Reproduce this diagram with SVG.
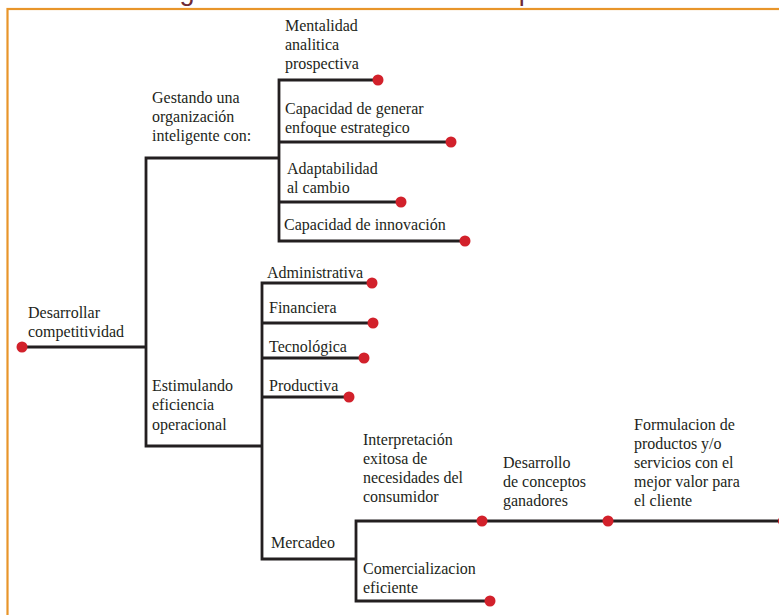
<svg xmlns="http://www.w3.org/2000/svg" width="779" height="615" viewBox="0 0 779 615">
<style>
.t{font-family:"Liberation Serif","Times New Roman",serif;font-size:16px;fill:#231f20}
.ttl{font-family:"Liberation Sans",Arial,sans-serif;font-size:27px;fill:#6e2a35}
.ln{fill:none;stroke:#231f20;stroke-width:2.8;stroke-linejoin:miter;stroke-linecap:butt}
.dot{fill:#d2212b}
</style>
<rect x="0" y="0" width="779" height="615" fill="#ffffff"/>
<text class="ttl" x="157" y="0">Figura 3. Desarrollo de la competitividad</text>
<rect x="7.5" y="9" width="820" height="700" fill="none" stroke="#e8952a" stroke-width="2.2"/>
<g id="connectors">
<path class="ln" d="M22,347 H146 M279,158 H146 V446 H262"/>
<path class="ln" d="M378,80 H279 V241 H465 M279,142 H451 M279,202 H401"/>
<path class="ln" d="M372,283 H262 V559 H356 M262,323 H373 M262,358 H364 M262,397 H349"/>
<path class="ln" d="M779,521 H356 V601 H490"/>
</g>
<g id="n-root"><circle class="dot" cx="22" cy="347" r="5.5"/><text class="t" x="28"><tspan x="28" y="318">Desarrollar</tspan><tspan x="28" y="337">competitividad</tspan></text></g>
<g id="n-gestando"><text class="t"><tspan x="152" y="103">Gestando una</tspan><tspan x="152" y="122">organización</tspan><tspan x="152" y="141">inteligente con:</tspan></text></g>
<g id="n-mentalidad"><circle class="dot" cx="378" cy="80" r="5.5"/><text class="t"><tspan x="285" y="31">Mentalidad</tspan><tspan x="285" y="50">analitica</tspan><tspan x="285" y="69">prospectiva</tspan></text></g>
<g id="n-capgen"><circle class="dot" cx="451" cy="142" r="5.5"/><text class="t"><tspan x="285" y="114">Capacidad de generar</tspan><tspan x="285" y="133">enfoque estrategico</tspan></text></g>
<g id="n-adapt"><circle class="dot" cx="401" cy="202" r="5.5"/><text class="t"><tspan x="287" y="174">Adaptabilidad</tspan><tspan x="287" y="193">al cambio</tspan></text></g>
<g id="n-innov"><circle class="dot" cx="465" cy="241" r="5.5"/><text class="t" x="284" y="230">Capacidad de innovación</text></g>
<g id="n-estimulando"><text class="t"><tspan x="152" y="391">Estimulando</tspan><tspan x="152" y="410">eficiencia</tspan><tspan x="152" y="430">operacional</tspan></text></g>
<g id="n-admin"><circle class="dot" cx="372" cy="283" r="5.5"/><text class="t" x="267" y="278">Administrativa</text></g>
<g id="n-fin"><circle class="dot" cx="373" cy="323" r="5.5"/><text class="t" x="269" y="313">Financiera</text></g>
<g id="n-tec"><circle class="dot" cx="364" cy="358" r="5.5"/><text class="t" x="269" y="352">Tecnológica</text></g>
<g id="n-prod"><circle class="dot" cx="349" cy="397" r="5.5"/><text class="t" x="269" y="391">Productiva</text></g>
<g id="n-mercadeo"><text class="t" x="271" y="548">Mercadeo</text></g>
<g id="n-interp"><circle class="dot" cx="482" cy="521" r="5.5"/><text class="t"><tspan x="363" y="445">Interpretación</tspan><tspan x="363" y="464">exitosa de</tspan><tspan x="363" y="483">necesidades del</tspan><tspan x="363" y="502">consumidor</tspan></text></g>
<g id="n-desconc"><circle class="dot" cx="608" cy="521" r="5.5"/><text class="t"><tspan x="503" y="468">Desarrollo</tspan><tspan x="503" y="487">de conceptos</tspan><tspan x="503" y="506">ganadores</tspan></text></g>
<g id="n-formul"><circle class="dot" cx="783.5" cy="521" r="5.5"/><text class="t"><tspan x="634" y="430">Formulacion de</tspan><tspan x="634" y="449">productos y/o</tspan><tspan x="634" y="468">servicios con el</tspan><tspan x="634" y="487">mejor valor para</tspan><tspan x="634" y="506">el cliente</tspan></text></g>
<g id="n-comerc"><circle class="dot" cx="490" cy="601" r="5.5"/><text class="t"><tspan x="363" y="574">Comercializacion</tspan><tspan x="363" y="593">eficiente</tspan></text></g>
</svg>
